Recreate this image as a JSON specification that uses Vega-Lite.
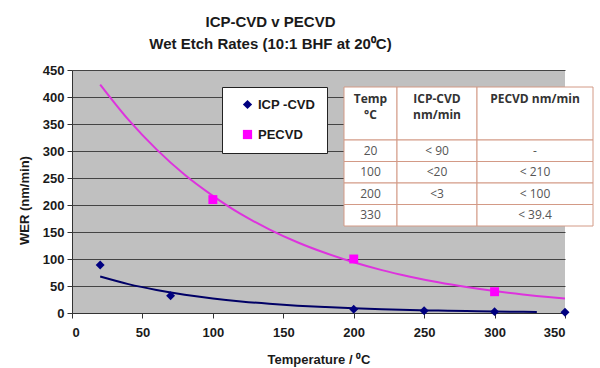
{
  "$schema": "https://vega.github.io/schema/vega-lite/v6.json",
  "width": 493,
  "height": 243,
  "autosize": {"type": "none"},
  "padding": {"left": 72, "top": 70, "right": 35, "bottom": 55},
  "background": "white",
  "title": {
    "text": ["ICP-CVD v PECVD", "Wet Etch Rates (10:1 BHF at 20⁰C)"],
    "font": "Liberation Sans",
    "fontSize": 15,
    "fontWeight": "bold",
    "color": "#1a1a1a",
    "anchor": "middle",
    "dx": -48,
    "lineHeight": 22,
    "offset": 12
  },
  "datasets": {
    "trend": [
      {"series": "ICP -CVD", "T": 20, "WER": 67.5},
      {"series": "ICP -CVD", "T": 40, "WER": 53.5},
      {"series": "ICP -CVD", "T": 60, "WER": 42.6},
      {"series": "ICP -CVD", "T": 80, "WER": 33.9},
      {"series": "ICP -CVD", "T": 100, "WER": 27.0},
      {"series": "ICP -CVD", "T": 120, "WER": 21.5},
      {"series": "ICP -CVD", "T": 140, "WER": 17.1},
      {"series": "ICP -CVD", "T": 160, "WER": 13.6},
      {"series": "ICP -CVD", "T": 180, "WER": 10.9},
      {"series": "ICP -CVD", "T": 200, "WER": 8.7},
      {"series": "ICP -CVD", "T": 220, "WER": 6.9},
      {"series": "ICP -CVD", "T": 240, "WER": 5.5},
      {"series": "ICP -CVD", "T": 260, "WER": 4.4},
      {"series": "ICP -CVD", "T": 280, "WER": 3.5},
      {"series": "ICP -CVD", "T": 300, "WER": 2.8},
      {"series": "ICP -CVD", "T": 320, "WER": 2.2},
      {"series": "ICP -CVD", "T": 330, "WER": 2.0},
      {"series": "PECVD", "T": 20, "WER": 423},
      {"series": "PECVD", "T": 40, "WER": 358},
      {"series": "PECVD", "T": 60, "WER": 303},
      {"series": "PECVD", "T": 80, "WER": 256},
      {"series": "PECVD", "T": 100, "WER": 217},
      {"series": "PECVD", "T": 120, "WER": 183},
      {"series": "PECVD", "T": 140, "WER": 155},
      {"series": "PECVD", "T": 160, "WER": 131},
      {"series": "PECVD", "T": 180, "WER": 111},
      {"series": "PECVD", "T": 200, "WER": 94},
      {"series": "PECVD", "T": 220, "WER": 79.4},
      {"series": "PECVD", "T": 240, "WER": 67.2},
      {"series": "PECVD", "T": 260, "WER": 56.8},
      {"series": "PECVD", "T": 280, "WER": 48.1},
      {"series": "PECVD", "T": 300, "WER": 40.7},
      {"series": "PECVD", "T": 320, "WER": 34.4},
      {"series": "PECVD", "T": 340, "WER": 29.1},
      {"series": "PECVD", "T": 350, "WER": 26.8}
    ],
    "points": [
      {"series": "ICP -CVD", "T": 20, "WER": 89},
      {"series": "ICP -CVD", "T": 70, "WER": 32},
      {"series": "ICP -CVD", "T": 200, "WER": 7},
      {"series": "ICP -CVD", "T": 250, "WER": 4},
      {"series": "ICP -CVD", "T": 300, "WER": 2.5},
      {"series": "ICP -CVD", "T": 350, "WER": 1.5},
      {"series": "PECVD", "T": 100, "WER": 210},
      {"series": "PECVD", "T": 200, "WER": 100},
      {"series": "PECVD", "T": 300, "WER": 39.4}
    ],
    "tableHead": [
      {"col": "temp", "part": "head", "text": "Temp\n°C"},
      {"col": "icp", "part": "head", "text": "ICP-CVD\nnm/min"},
      {"col": "pecvd", "part": "head", "text": "PECVD nm/min"}
    ],
    "tableBody": [
      {"col": "temp", "row": "20", "text": "20"},
      {"col": "icp", "row": "20", "text": "< 90"},
      {"col": "pecvd", "row": "20", "text": "-"},
      {"col": "temp", "row": "100", "text": "100"},
      {"col": "icp", "row": "100", "text": "<20"},
      {"col": "pecvd", "row": "100", "text": "< 210"},
      {"col": "temp", "row": "200", "text": "200"},
      {"col": "icp", "row": "200", "text": "<3"},
      {"col": "pecvd", "row": "200", "text": "< 100"},
      {"col": "temp", "row": "330", "text": "330"},
      {"col": "icp", "row": "330", "text": ""},
      {"col": "pecvd", "row": "330", "text": "< 39.4"}
    ]
  },
  "layer": [
    {
      "data": {"name": "trend"},
      "mark": {"type": "line", "strokeWidth": 2, "interpolate": "monotone"},
      "encoding": {
        "x": {
          "field": "T", "type": "quantitative",
          "scale": {"domain": [0, 350], "nice": false, "zero": false},
          "axis": {
            "title": "Temperature / ⁰C",
            "values": [0, 50, 100, 150, 200, 250, 300, 350],
            "grid": false,
            "titleY": 50,
            "titleBaseline": "alphabetic"
          }
        },
        "y": {
          "field": "WER", "type": "quantitative",
          "scale": {"domain": [0, 450], "nice": false},
          "axis": {
            "title": "WER (nm/min)",
            "values": [0, 50, 100, 150, 200, 250, 300, 350, 400, 450],
            "grid": true,
            "gridColor": "#444444",
            "gridWidth": 1,
            "titleX": -48,
            "titleY": 130,
            "titleAlign": "center",
            "titleBaseline": "middle",
            "labelPadding": 3
          }
        },
        "stroke": {
          "field": "series", "type": "nominal",
          "scale": {"range": ["#000066", "#dd33dd"]},
          "legend": null
        }
      }
    },
    {
      "data": {"name": "points"},
      "mark": {"type": "point", "filled": true, "opacity": 1, "size": 80},
      "encoding": {
        "x": {"field": "T", "type": "quantitative", "scale": {"domain": [0, 350], "nice": false, "zero": false}, "axis": null},
        "y": {"field": "WER", "type": "quantitative", "scale": {"domain": [0, 450], "nice": false}, "axis": null},
        "color": {
          "field": "series", "type": "nominal",
          "scale": {"domain": ["ICP -CVD", "PECVD"], "range": ["#000080", "#ff00ff"]},
          "legend": {"orient": "none", "legendX": 150, "legendY": 17}
        },
        "shape": {
          "field": "series", "type": "nominal",
          "scale": {"domain": ["ICP -CVD", "PECVD"], "range": ["diamond", "square"]},
          "legend": {"orient": "none", "legendX": 150, "legendY": 17}
        }
      }
    },
    {
      "data": {"name": "tableHead"},
      "transform": [{"filter": "datum.col === 'temp'"}],
      "encoding": {
        "x": {"field": "col", "type": "nominal", "scale": {"type": "band", "range": [272, 325], "paddingInner": 0, "paddingOuter": 0}, "axis": null},
        "y": {"field": "part", "type": "nominal", "scale": {"type": "band", "range": [17, 70], "paddingInner": 0, "paddingOuter": 0}, "axis": null}
      },
      "layer": [
        {"mark": {"type": "rect", "fill": "white", "stroke": "#d39a86", "strokeWidth": 1}},
        {"mark": {"type": "text", "font": "Open Sans", "fontSize": 12, "fontWeight": "bold", "color": "#333333", "baseline": "top", "lineBreak": "\n", "lineHeight": 16, "dy": 7},
         "encoding": {"y": {"field": "part", "type": "nominal", "bandPosition": 0}, "text": {"field": "text"}}}
      ]
    },
    {
      "data": {"name": "tableHead"},
      "transform": [{"filter": "datum.col === 'icp'"}],
      "encoding": {
        "x": {"field": "col", "type": "nominal", "scale": {"type": "band", "range": [325, 405], "paddingInner": 0, "paddingOuter": 0}, "axis": null},
        "y": {"field": "part", "type": "nominal", "scale": {"type": "band", "range": [17, 70], "paddingInner": 0, "paddingOuter": 0}, "axis": null}
      },
      "layer": [
        {"mark": {"type": "rect", "fill": "white", "stroke": "#d39a86", "strokeWidth": 1}},
        {"mark": {"type": "text", "font": "Open Sans", "fontSize": 12, "fontWeight": "bold", "color": "#333333", "baseline": "top", "lineBreak": "\n", "lineHeight": 16, "dy": 7},
         "encoding": {"y": {"field": "part", "type": "nominal", "bandPosition": 0}, "text": {"field": "text"}}}
      ]
    },
    {
      "data": {"name": "tableHead"},
      "transform": [{"filter": "datum.col === 'pecvd'"}],
      "encoding": {
        "x": {"field": "col", "type": "nominal", "scale": {"type": "band", "range": [405, 521], "paddingInner": 0, "paddingOuter": 0}, "axis": null},
        "y": {"field": "part", "type": "nominal", "scale": {"type": "band", "range": [17, 70], "paddingInner": 0, "paddingOuter": 0}, "axis": null}
      },
      "layer": [
        {"mark": {"type": "rect", "fill": "white", "stroke": "#d39a86", "strokeWidth": 1}},
        {"mark": {"type": "text", "font": "Open Sans", "fontSize": 12, "fontWeight": "bold", "color": "#333333", "baseline": "top", "lineBreak": "\n", "lineHeight": 16, "dy": 7},
         "encoding": {"y": {"field": "part", "type": "nominal", "bandPosition": 0}, "text": {"field": "text"}}}
      ]
    },
    {
      "data": {"name": "tableBody"},
      "transform": [{"filter": "datum.col === 'temp'"}],
      "encoding": {
        "x": {"field": "col", "type": "nominal", "scale": {"type": "band", "range": [272, 325], "paddingInner": 0, "paddingOuter": 0}, "axis": null},
        "y": {"field": "row", "type": "nominal", "scale": {"type": "band", "domain": ["20", "100", "200", "330"], "range": [70, 156], "paddingInner": 0, "paddingOuter": 0}, "axis": null}
      },
      "layer": [
        {"mark": {"type": "rect", "fill": "white", "stroke": "#d39a86", "strokeWidth": 1}},
        {"mark": {"type": "text", "font": "Open Sans", "fontSize": 12, "color": "#555555"}, "encoding": {"text": {"field": "text"}}}
      ]
    },
    {
      "data": {"name": "tableBody"},
      "transform": [{"filter": "datum.col === 'icp'"}],
      "encoding": {
        "x": {"field": "col", "type": "nominal", "scale": {"type": "band", "range": [325, 405], "paddingInner": 0, "paddingOuter": 0}, "axis": null},
        "y": {"field": "row", "type": "nominal", "scale": {"type": "band", "domain": ["20", "100", "200", "330"], "range": [70, 156], "paddingInner": 0, "paddingOuter": 0}, "axis": null}
      },
      "layer": [
        {"mark": {"type": "rect", "fill": "white", "stroke": "#d39a86", "strokeWidth": 1}},
        {"mark": {"type": "text", "font": "Open Sans", "fontSize": 12, "color": "#555555"}, "encoding": {"text": {"field": "text"}}}
      ]
    },
    {
      "data": {"name": "tableBody"},
      "transform": [{"filter": "datum.col === 'pecvd'"}],
      "encoding": {
        "x": {"field": "col", "type": "nominal", "scale": {"type": "band", "range": [405, 521], "paddingInner": 0, "paddingOuter": 0}, "axis": null},
        "y": {"field": "row", "type": "nominal", "scale": {"type": "band", "domain": ["20", "100", "200", "330"], "range": [70, 156], "paddingInner": 0, "paddingOuter": 0}, "axis": null}
      },
      "layer": [
        {"mark": {"type": "rect", "fill": "white", "stroke": "#d39a86", "strokeWidth": 1}},
        {"mark": {"type": "text", "font": "Open Sans", "fontSize": 12, "color": "#555555"}, "encoding": {"text": {"field": "text"}}}
      ]
    }
  ],
  "resolve": {"scale": {"x": "independent", "y": "independent"}},
  "config": {
    "font": "Liberation Sans",
    "view": {"fill": "#c0c0c0", "stroke": null},
    "legend": {
      "title": null,
      "fillColor": "white", "strokeColor": "#222222", "padding": 11,
      "rowPadding": 16, "labelOffset": 4, "symbolOffset": 8,
      "symbolSize": 85, "labelFont": "Liberation Sans", "labelFontSize": 13,
      "labelFontWeight": "bold", "labelColor": "#1a1a1a", "cornerRadius": 0
    },
    "axis": {
      "domainColor": "#333333",
      "domainWidth": 1,
      "tickColor": "#333333",
      "tickSize": 5,
      "labelFont": "Liberation Sans",
      "labelFontSize": 13,
      "labelFontWeight": "bold",
      "labelColor": "#1a1a1a",
      "titleFont": "Liberation Sans",
      "titleFontSize": 13,
      "titleFontWeight": "bold",
      "titleColor": "#1a1a1a"
    },
    "axisX": {"labelPadding": 8},
    "axisY": {"labelPadding": 3}
  }
}
